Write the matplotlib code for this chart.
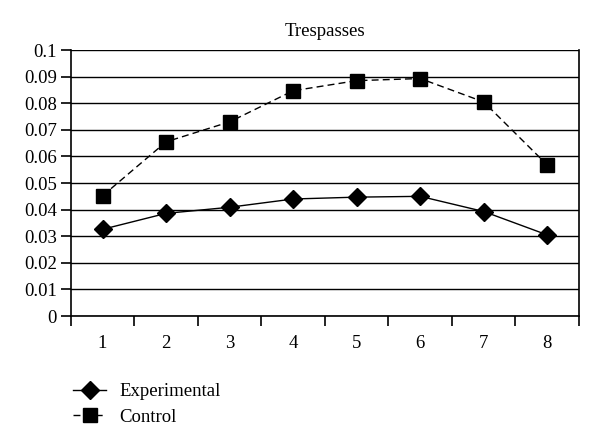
import matplotlib
matplotlib.use('Agg')
import matplotlib.pyplot as plt
import numpy as np

# data
periods = [1, 2, 3, 4, 5, 6, 7, 8]
experimental = [0.0326, 0.0386, 0.0409, 0.0440, 0.0447, 0.0450, 0.0393, 0.0305]
control = [0.0452, 0.0655, 0.0730, 0.0847, 0.0885, 0.0893, 0.0805, 0.0568]
y_ticks = [0, 0.01, 0.02, 0.03, 0.04, 0.05, 0.06, 0.07, 0.08, 0.09, 0.1]
y_labels = ['0', '0.01', '0.02', '0.03', '0.04', '0.05', '0.06', '0.07', '0.08', '0.09', '0.1']

plt.rcParams['font.family'] = ['Liberation Serif', 'DejaVu Serif']
fs = 13.5

fig = plt.figure(figsize=(6, 4.47), dpi=100)
ax = fig.add_axes([0.118, 0.293, 0.847, 0.595])

# gridlines
for v in y_ticks:
    ax.axhline(v, color='black', lw=1.0, zorder=1)

ax.plot(periods, experimental, color='black', lw=1.0, marker='D',
        markersize=9, label='Experimental', zorder=3)
ax.plot(periods, control, color='black', lw=1.0, ls=(0, (5, 3)), marker='s',
        markersize=10, label='Control', zorder=3)

ax.set_xlim(0.5, 8.5)
ax.set_ylim(0, 0.1)
ax.set_yticks(y_ticks)
ax.set_yticklabels(y_labels, fontsize=fs)
ax.set_xticks(periods)
ax.set_xticklabels([str(p) for p in periods], fontsize=fs)
ax.set_xticks(np.arange(0.5, 9, 1), minor=True)
ax.tick_params(axis='x', which='major', length=0, pad=14)
ax.tick_params(axis='x', which='minor', length=7, width=1.2, direction='out')
ax.tick_params(axis='y', length=7, width=1.2, direction='out', pad=3)

for s in ['left', 'bottom', 'right']:
    ax.spines[s].set_linewidth(1.2)
ax.spines['top'].set_visible(False)

ax.set_title('Trespasses', fontsize=fs, pad=10)

fig.legend(loc='lower left', bbox_to_anchor=(0.093, 0.01), frameon=False,
           fontsize=fs, handlelength=1.8, handletextpad=0.7, labelspacing=0.45)

fig.savefig('out.png', dpi=100)
